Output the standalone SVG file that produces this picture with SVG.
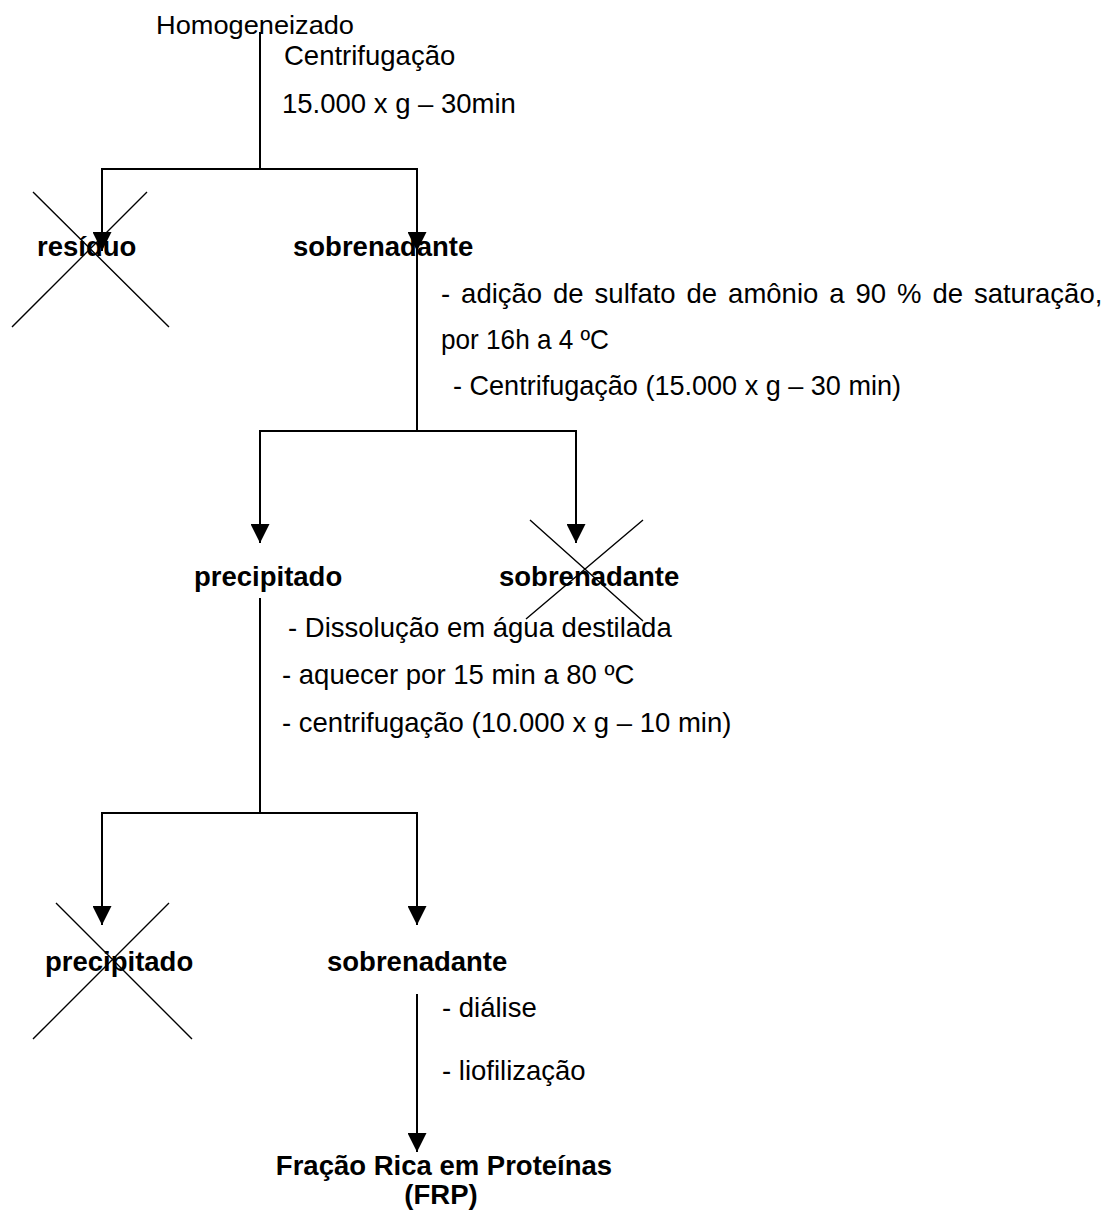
<svg xmlns="http://www.w3.org/2000/svg" width="1114" height="1213" viewBox="0 0 1114 1213">
<style>
text{font-family:"Liberation Sans",Arial,sans-serif;fill:#000}
.n{font-size:27.5px}
.b{font-size:27.5px;font-weight:bold}
.c{stroke:#000;stroke-width:2;fill:none}
.x{stroke:#000;stroke-width:1.4;fill:none}
</style>
<defs>
<marker id="ah" markerUnits="userSpaceOnUse" markerWidth="19" markerHeight="19" refX="19" refY="9.5" orient="auto" viewBox="0 0 19 19">
<path d="M0,0 L19,9.5 L0,19 Z" fill="#000"/>
</marker>
</defs>
<rect width="1114" height="1213" fill="#fff"/>
<g id="homogeneizado"><text x="156" y="34" style="font-size:25px" textLength="198" lengthAdjust="spacingAndGlyphs">Homogeneizado</text></g>
<g id="step1-label">
<text class="n" x="284" y="65">Centrifugação</text>
<text class="n" x="282" y="113">15.000 x g – 30min</text>
</g>
<g id="residuo"><text class="b" x="37" y="256">resíduo</text></g>
<g id="sobrenadante1"><text class="b" x="293" y="256">sobrenadante</text></g>
<g id="step2-label">
<text class="n" x="441" y="303" word-spacing="3.3">- adição de sulfato de amônio a 90 % de saturação,</text>
<text class="n" x="441" y="349" textLength="168" lengthAdjust="spacingAndGlyphs">por 16h a 4 ºC</text>
<text class="n" x="453" y="395" textLength="448" lengthAdjust="spacingAndGlyphs">- Centrifugação (15.000 x g – 30 min)</text>
</g>
<g id="precipitado1"><text class="b" x="194" y="586">precipitado</text></g>
<g id="sobrenadante2"><text class="b" x="499" y="586">sobrenadante</text></g>
<g id="step3-label">
<text class="n" x="288" y="637">- Dissolução em água destilada</text>
<text class="n" x="282" y="684">- aquecer por 15 min a 80 ºC</text>
<text class="n" x="282" y="732">- centrifugação (10.000 x g – 10 min)</text>
</g>
<g id="precipitado2"><text class="b" x="45" y="971">precipitado</text></g>
<g id="sobrenadante3"><text class="b" x="327" y="971">sobrenadante</text></g>
<g id="step4-label">
<text class="n" x="442" y="1017">- diálise</text>
<text class="n" x="442" y="1080">- liofilização</text>
</g>
<g id="frp">
<text class="b" x="444" y="1175" text-anchor="middle">Fração Rica em Proteínas</text>
<text class="b" x="441" y="1204" text-anchor="middle">(FRP)</text>
</g>
<g id="connectors">
<path class="c" d="M260,32 V169 M101,169 H418"/>
<path class="c" d="M102,169 V251" marker-end="url(#ah)"/>
<path class="c" d="M417,169 V251" marker-end="url(#ah)"/>
<path class="c" d="M417,250 V431 M259,431 H577"/>
<path class="c" d="M260,431 V543" marker-end="url(#ah)"/>
<path class="c" d="M576,431 V543" marker-end="url(#ah)"/>
<path class="c" d="M260,598 V813 M101,813 H418"/>
<path class="c" d="M102,813 V925" marker-end="url(#ah)"/>
<path class="c" d="M417,813 V925" marker-end="url(#ah)"/>
<path class="c" d="M417,994 V1152" marker-end="url(#ah)"/>
</g>
<g id="discard-marks">
<path class="x" d="M33,192 L169,327 M147,192 L12,327"/>
<path class="x" d="M530,520 L643,621 M643,520 L526,619"/>
<path class="x" d="M56,903 L192,1039 M169,903 L33,1039"/>
</g>
</svg>
